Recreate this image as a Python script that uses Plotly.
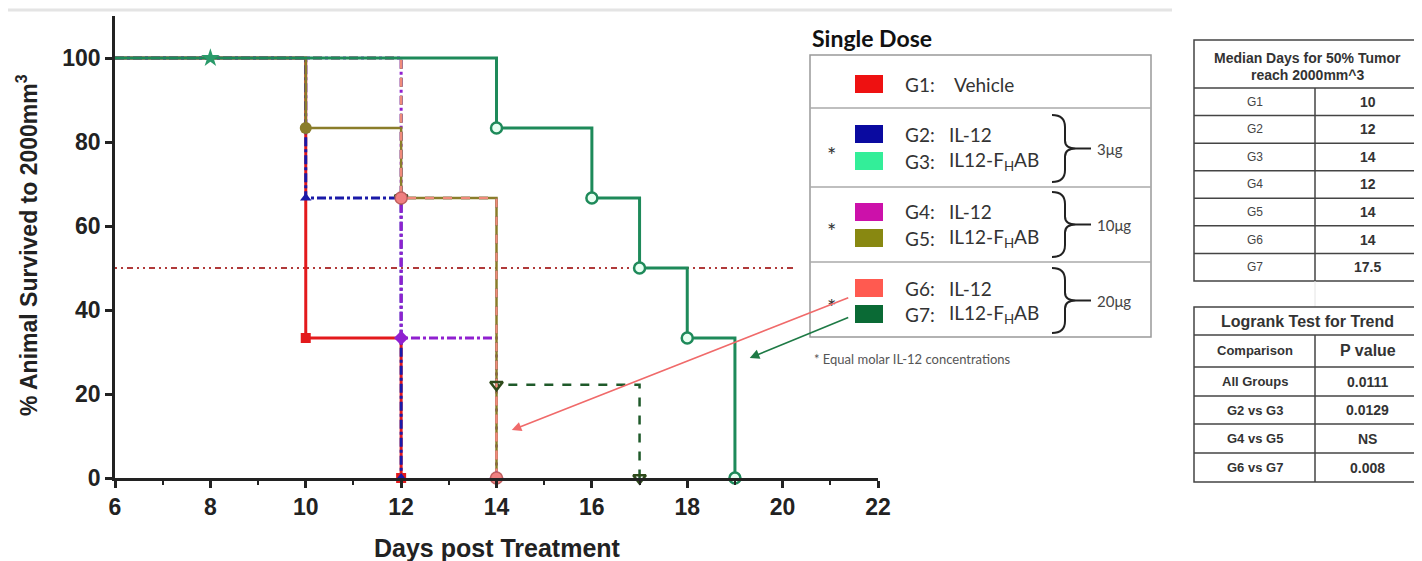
import plotly.graph_objects as go

# ---------------- data ----------------
start_day = 6
start_pct = 100

g1_days = [10, 12]
g1_pct = [33.33, 0]
g2_days = [10, 12]
g2_pct = [66.67, 0]
g3_days = [12, 14, 17]
g3_pct = [66.67, 22.22, 0]
g4_days = [12, 14]
g4_pct = [33.33, 0]
g5_days = [10, 12, 14]
g5_pct = [83.33, 66.67, 0]
g6_days = [12, 14]
g6_pct = [66.67, 0]
g7_days = [14, 16, 17, 18, 19]
g7_pct = [83.33, 66.67, 50, 33.33, 0]

censor_days = [8]
censor_pct = [100]

median_ref_days = [6, 20.3]
median_ref_pct = [50, 50]

x_ticks = [6, 8, 10, 12, 14, 16, 18, 20, 22]
y_ticks = [0, 20, 40, 60, 80, 100]

legend_title = "Single Dose"
legend_groups = ["G1", "G2", "G3", "G4", "G5", "G6", "G7"]
legend_names = ["Vehicle", "IL-12", "IL12-F<sub>H</sub>AB", "IL-12",
                "IL12-F<sub>H</sub>AB", "IL-12", "IL12-F<sub>H</sub>AB"]
legend_swatch = ["#ee1111", "#0a0aa0", "#33ee99", "#cc11aa", "#888811", "#ff5a50", "#0a6a35"]
dose_labels = ["3μg", "10μg", "20μg"]
footnote = "* Equal molar IL-12 concentrations"

median_header = ["Median Days for 50% Tumor", "reach 2000mm^3"]
median_groups = ["G1", "G2", "G3", "G4", "G5", "G6", "G7"]
median_days = ["10", "12", "14", "12", "14", "14", "17.5"]

logrank_title = "Logrank Test for Trend"
logrank_cols = ["Comparison", "P value"]
logrank_comparisons = ["All Groups", "G2 vs G3", "G4 vs G5", "G6 vs G7"]
logrank_p = ["0.0111", "0.0129", "NS", "0.008"]

# ---------------- geometry helpers ----------------
# the page body adds an 8px offset, so the figure is drawn 8px smaller
OFF = 8
W, H = 1422 - OFF, 561 - OFF
# plot area in reference-picture pixels
RL, RR, RT, RB = 115, 878, 16, 478
L, R, T, B = RL - OFF, RR - OFF, RT - OFF, RB - OFF


def X(px):
    return (px - OFF - L) / (R - L)


def Y(py):
    return (B - (py - OFF)) / (B - T)


AX_FONT = "Liberation Sans, Arial, sans-serif"
LG_FONT = "Lato, Liberation Sans, sans-serif"

fig = go.Figure()

# 50% reference line
fig.add_trace(go.Scatter(x=median_ref_days, y=median_ref_pct, mode="lines",
                         line=dict(color="#b03a3a", width=2, dash="2px,4px,2px,4px,6px,4px"),
                         hoverinfo="skip", showlegend=False))

series = [
    ("G1", g1_days, g1_pct, "#e31a1c", 3, "solid",
     dict(symbol="square", size=10, color="#e31a1c")),
    ("G2", g2_days, g2_pct, "#1a1aa8", 3, "dashdot",
     dict(symbol="triangle-up", size=10, color="#1a1aa8")),
    ("G4", g4_days, g4_pct, "#9020d0", 3, "dashdot",
     dict(symbol="diamond", size=11, color="#9020d0")),
    ("G5", g5_days, g5_pct, "#8a7d2a", 2.5, "solid",
     dict(symbol="circle", size=12, color="#8a7d2a")),
    ("G3", g3_days, g3_pct, "#1f5a2a", 2.5, "dash",
     dict(symbol="triangle-down-open", size=11, color="#2e4a1a", line=dict(width=2.5))),
    ("G6", g6_days, g6_pct, "#f08a7a", 2.5, "dash",
     dict(symbol="circle", size=12, color="#f08080", line=dict(color="#c06060", width=1.5))),
    ("G7", g7_days, g7_pct, "#1e8a5a", 3, "solid",
     dict(symbol="circle", size=11, color="#e8fff2", line=dict(color="#1e8a5a", width=2.5))),
]

for name, days, pct, col, w, dash, mk in series:
    fig.add_trace(go.Scatter(x=[start_day] + days, y=[start_pct] + pct, mode="lines",
                             line=dict(color=col, width=w, dash=dash, shape="hv"),
                             name=name, showlegend=False, cliponaxis=False))
for name, days, pct, col, w, dash, mk in series:
    fig.add_trace(go.Scatter(x=days, y=pct, mode="markers", marker=mk,
                             name=name, showlegend=False, cliponaxis=False))

fig.add_trace(go.Scatter(x=censor_days, y=censor_pct, mode="markers",
                         marker=dict(symbol="star", size=14, color="#2a9a6a"),
                         showlegend=False, cliponaxis=False))

shapes = []
annotations = []

# top grey border line of the original picture
shapes.append(dict(type="line", xref="paper", yref="paper", x0=X(8), x1=X(1172), y0=Y(10), y1=Y(10),
                   line=dict(color="#e4e4e4", width=3)))

# axis titles
annotations.append(dict(xref="paper", yref="paper", x=X(497), y=Y(548), text="Days post Treatment",
                        showarrow=False, font=dict(family=AX_FONT, size=25, color="#222", weight="bold"),
                        xanchor="center", yanchor="middle"))
annotations.append(dict(xref="paper", yref="paper", x=X(27), y=Y(245),
                        text="% Animal Survived to 2000mm<sup>3</sup>", textangle=-90,
                        showarrow=False, font=dict(family=AX_FONT, size=23, color="#222", weight="bold"),
                        xanchor="center", yanchor="middle"))

# ---------------- legend panel ----------------
annotations.append(dict(xref="paper", yref="paper", x=X(810), y=Y(38), text=legend_title,
                        showarrow=False, xanchor="left", yanchor="middle",
                        font=dict(family=LG_FONT, size=23, color="#111", weight="bold")))
shapes.append(dict(type="rect", xref="paper", yref="paper", x0=X(810), x1=X(1151), y0=Y(55), y1=Y(337),
                   line=dict(color="#999", width=1.5)))
for sy in [108, 187, 262]:
    shapes.append(dict(type="line", xref="paper", yref="paper", x0=X(810), x1=X(1151), y0=Y(sy), y1=Y(sy),
                       line=dict(color="#aaa", width=1.5)))

row_centers = [84, 134, 161, 212, 238, 288, 314]
for i, g in enumerate(legend_groups):
    cy = row_centers[i]
    shapes.append(dict(type="rect", xref="paper", yref="paper", x0=X(855), x1=X(883),
                       y0=Y(cy - 9), y1=Y(cy + 9), fillcolor=legend_swatch[i], line=dict(width=0)))
    annotations.append(dict(xref="paper", yref="paper", x=X(903), y=Y(cy), text=g + ":",
                            showarrow=False, xanchor="left", yanchor="middle",
                            font=dict(family=LG_FONT, size=19, color="#333")))
    annotations.append(dict(xref="paper", yref="paper", x=X(947 if i else 952), y=Y(cy), text=legend_names[i],
                            showarrow=False, xanchor="left", yanchor="middle",
                            font=dict(family=LG_FONT, size=19, color="#333")))

braces = [(115, 182), (192, 257), (268, 333)]
for (yt, yb), lab in zip(braces, dose_labels):
    x0 = 1052
    ym = (yt + yb) / 2
    pts = [
        ("M", [(x0, yt)]),
        ("Q", [(x0 + 13, yt), (x0 + 13, yt + 12)]),
        ("L", [(x0 + 13, ym - 8)]),
        ("Q", [(x0 + 13, ym), (x0 + 24, ym)]),
        ("Q", [(x0 + 13, ym), (x0 + 13, ym + 8)]),
        ("L", [(x0 + 13, yb - 12)]),
        ("Q", [(x0 + 13, yb), (x0, yb)]),
    ]
    path = " ".join(c + " " + " ".join(f"{X(px):.5f},{Y(py):.5f}" for px, py in p) for c, p in pts)
    shapes.append(dict(type="path", xref="paper", yref="paper", path=path,
                       line=dict(color="#222", width=2)))
    shapes.append(dict(type="line", xref="paper", yref="paper", x0=X(x0 + 24), x1=X(1091),
                       y0=Y(ym), y1=Y(ym), line=dict(color="#222", width=2)))
    annotations.append(dict(xref="paper", yref="paper", x=X(1095), y=Y(ym), text=lab,
                            showarrow=False, xanchor="left", yanchor="middle",
                            font=dict(family=LG_FONT, size=15, color="#444")))
    annotations.append(dict(xref="paper", yref="paper", x=X(831), y=Y(ym + 6), text="*",
                            showarrow=False, xanchor="center", yanchor="middle",
                            font=dict(family=LG_FONT, size=22, color="#333")))

annotations.append(dict(xref="paper", yref="paper", x=X(812), y=Y(359), text=footnote,
                        showarrow=False, xanchor="left", yanchor="middle",
                        font=dict(family=LG_FONT, size=13, color="#555")))

# arrows
annotations.append(dict(x=14.32, y=11.4, xref="x", yref="y", ax=338, ay=-133, axref="pixel", ayref="pixel",
                        showarrow=True, arrowhead=2, arrowsize=1.2, arrowwidth=1.6, arrowcolor="#f06a6a", text=""))
annotations.append(dict(x=19.31, y=28.6, xref="x", yref="y", ax=100, ay=-41, axref="pixel", ayref="pixel",
                        showarrow=True, arrowhead=2, arrowsize=1.2, arrowwidth=1.6, arrowcolor="#1e7a45", text=""))

# ---------------- tables ----------------
TB_FONT = "Liberation Sans, Arial, sans-serif"
tl, tr, tm = 1194, 1420, 1315
bc = "#444"


def hline(py, x0=tl, x1=tr):
    shapes.append(dict(type="line", xref="paper", yref="paper", x0=X(x0), x1=X(x1), y0=Y(py), y1=Y(py),
                       line=dict(color=bc, width=1.5)))


def vline(px, y0, y1):
    shapes.append(dict(type="line", xref="paper", yref="paper", x0=X(px), x1=X(px), y0=Y(y0), y1=Y(y1),
                       line=dict(color=bc, width=1.5)))


def txt(px, py, s, size=12, bold=True, color="#333"):
    annotations.append(dict(xref="paper", yref="paper", x=X(px), y=Y(py), text=s, showarrow=False,
                            xanchor="center", yanchor="middle",
                            font=dict(family=TB_FONT, size=size, color=color,
                                      weight="bold" if bold else "normal")))


# table 1
t1_top, t1_head, t1_bot = 40, 88, 281
rh = (t1_bot - t1_head) / len(median_groups)
shapes.append(dict(type="rect", xref="paper", yref="paper", x0=X(tl), x1=X(tr), y0=Y(t1_top), y1=Y(t1_bot),
                   line=dict(color=bc, width=1.5)))
hline(t1_head)
vline(tm, t1_head, t1_bot)
txt((tl + tr) / 2, 58, median_header[0], 14)
txt((tl + tr) / 2, 75, median_header[1], 14)
for i, (g, d) in enumerate(zip(median_groups, median_days)):
    y0 = t1_head + i * rh
    if i > 0:
        hline(y0)
    txt((tl + tm) / 2, y0 + rh / 2, g, 12, bold=False, color="#444")
    txt((tm + tr) / 2, y0 + rh / 2, d, 14)

# faint column between the tables
shapes.append(dict(type="line", xref="paper", yref="paper", x0=X(tm), x1=X(tm), y0=Y(t1_bot), y1=Y(307),
                   line=dict(color="#e4e4e4", width=1)))

# table 2
t2_rows = [307, 335, 367, 396, 424, 453, 482]
shapes.append(dict(type="rect", xref="paper", yref="paper", x0=X(tl), x1=X(tr), y0=Y(t2_rows[0]),
                   y1=Y(t2_rows[-1]), line=dict(color=bc, width=1.5)))
for yy in t2_rows[1:-1]:
    hline(yy)
vline(tm, t2_rows[1], t2_rows[-1])
txt((tl + tr) / 2, (t2_rows[0] + t2_rows[1]) / 2, logrank_title, 16)
txt((tl + tm) / 2, (t2_rows[1] + t2_rows[2]) / 2, logrank_cols[0], 13)
txt((tm + tr) / 2, (t2_rows[1] + t2_rows[2]) / 2, logrank_cols[1], 16)
for i, (c, p) in enumerate(zip(logrank_comparisons, logrank_p)):
    yc = (t2_rows[i + 2] + t2_rows[i + 3]) / 2
    txt((tl + tm) / 2, yc, c, 13)
    txt((tm + tr) / 2, yc, p, 14)

# ---------------- layout ----------------
axis_common = dict(showgrid=False, zeroline=False, showline=True, linecolor="#222", linewidth=2.5,
                   ticks="outside", ticklen=7, tickwidth=2.5, tickcolor="#222",
                   tickfont=dict(family=AX_FONT, size=23, color="#222", weight="bold"))

fig.update_layout(
    width=W, height=H, autosize=False,
    margin=dict(l=L, r=W - R, t=T, b=H - B, pad=0),
    paper_bgcolor="white", plot_bgcolor="white",
    xaxis=dict(range=[6, 22], tickvals=x_ticks, ticktext=[str(v) for v in x_ticks],
               minor=dict(dtick=1, ticks="outside", ticklen=4, tickwidth=2, tickcolor="#222", showgrid=False),
               **axis_common),
    yaxis=dict(range=[0, 110], tickvals=y_ticks, ticktext=[str(v) for v in y_ticks], **axis_common),
    shapes=shapes, annotations=annotations, showlegend=False,
)

fig.write_html("out.html")
